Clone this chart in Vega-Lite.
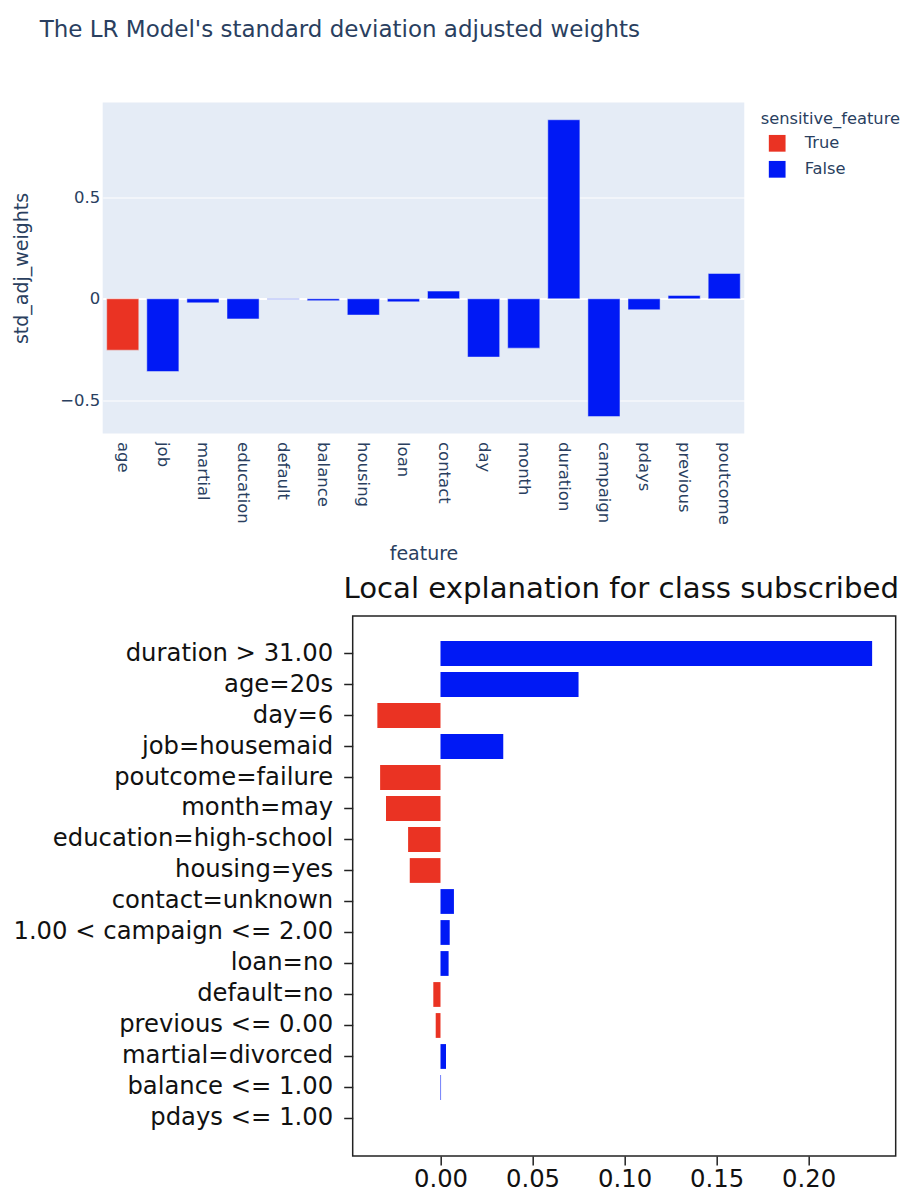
{
  "$schema": "https://vega.github.io/schema/vega-lite/v6.json",
  "background": "white",
  "padding": {"left": 4.7, "top": 18.5, "right": 0, "bottom": 0},
  "datasets": {
    "weights": [
      {"feature": "age", "std_adj_weights": -0.253, "sensitive_feature": "True"},
      {"feature": "job", "std_adj_weights": -0.358, "sensitive_feature": "False"},
      {"feature": "martial", "std_adj_weights": -0.02, "sensitive_feature": "False"},
      {"feature": "education", "std_adj_weights": -0.099, "sensitive_feature": "False"},
      {"feature": "default", "std_adj_weights": -0.002, "sensitive_feature": "False"},
      {"feature": "balance", "std_adj_weights": -0.009, "sensitive_feature": "False"},
      {"feature": "housing", "std_adj_weights": -0.08, "sensitive_feature": "False"},
      {"feature": "loan", "std_adj_weights": -0.015, "sensitive_feature": "False"},
      {"feature": "contact", "std_adj_weights": 0.038, "sensitive_feature": "False"},
      {"feature": "day", "std_adj_weights": -0.287, "sensitive_feature": "False"},
      {"feature": "month", "std_adj_weights": -0.243, "sensitive_feature": "False"},
      {"feature": "duration", "std_adj_weights": 0.882, "sensitive_feature": "False"},
      {"feature": "campaign", "std_adj_weights": -0.58, "sensitive_feature": "False"},
      {"feature": "pdays", "std_adj_weights": -0.054, "sensitive_feature": "False"},
      {"feature": "previous", "std_adj_weights": 0.016, "sensitive_feature": "False"},
      {"feature": "poutcome", "std_adj_weights": 0.125, "sensitive_feature": "False"}
    ],
    "lime": [
      {"label": "duration > 31.00", "value": 0.2345, "direction": "positive"},
      {"label": "age=20s", "value": 0.075, "direction": "positive"},
      {"label": "day=6", "value": -0.0343, "direction": "negative"},
      {"label": "job=housemaid", "value": 0.0341, "direction": "positive"},
      {"label": "poutcome=failure", "value": -0.0328, "direction": "negative"},
      {"label": "month=may", "value": -0.0296, "direction": "negative"},
      {"label": "education=high-school", "value": -0.0176, "direction": "negative"},
      {"label": "housing=yes", "value": -0.0167, "direction": "negative"},
      {"label": "contact=unknown", "value": 0.0073, "direction": "positive"},
      {"label": "1.00 < campaign <= 2.00", "value": 0.005, "direction": "positive"},
      {"label": "loan=no", "value": 0.0044, "direction": "positive"},
      {"label": "default=no", "value": -0.0039, "direction": "negative"},
      {"label": "previous <= 0.00", "value": -0.0026, "direction": "negative"},
      {"label": "martial=divorced", "value": 0.003, "direction": "positive"},
      {"label": "balance <= 1.00", "value": 0.0003, "direction": "positive"},
      {"label": "pdays <= 1.00", "value": 0, "direction": "positive"}
    ]
  },
  "concat": [
    {
      "data": {"values": [{}]},
      "width": 1,
      "height": 1,
      "view": {"fill": null, "stroke": null},
      "mark": {"type": "point", "opacity": 0},
      "encoding": {}
    },
    {
      "data": {"name": "weights"},
      "width": 641.6,
      "height": 331,
      "view": {"fill": "#E5ECF6", "stroke": null},
      "title": {
        "text": "The LR Model's standard deviation adjusted weights",
        "font": "DejaVu Sans",
        "fontSize": 23,
        "fontWeight": "normal",
        "color": "#2a3f5f",
        "anchor": "start",
        "frame": "group",
        "dx": -63,
        "offset": 61
      },
      "mark": {"type": "bar", "stroke": "#E5ECF6", "strokeWidth": 0.5},
      "encoding": {
        "x": {
          "field": "feature",
          "type": "nominal",
          "sort": null,
          "scale": {"paddingInner": 0.2, "paddingOuter": 0.1},
          "axis": {
            "title": "feature",
            "labelAngle": 90,
            "labelFont": "DejaVu Sans",
            "labelFontSize": 16.5,
            "labelColor": "#2a3f5f",
            "ticks": false,
            "domain": false,
            "labelPadding": 8,
            "titleFont": "DejaVu Sans",
            "titleFontSize": 19,
            "titleFontWeight": "normal",
            "titleColor": "#2a3f5f",
            "titlePadding": 20
          }
        },
        "y": {
          "field": "std_adj_weights",
          "type": "quantitative",
          "scale": {"domain": [-0.6635, 0.967], "nice": false, "zero": false},
          "axis": {
            "title": "std_adj_weights",
            "values": [-0.5, 0, 0.5],
            "format": ".1~f",
            "labelFont": "DejaVu Sans",
            "labelFontSize": 16.5,
            "labelColor": "#2a3f5f",
            "ticks": false,
            "domain": false,
            "labelPadding": 3,
            "grid": true,
            "gridColor": "white",
            "gridWidth": {"condition": {"test": "datum.value === 0", "value": 2}, "value": 1},
            "titleFont": "DejaVu Sans",
            "titleFontSize": 19,
            "titleFontWeight": "normal",
            "titleColor": "#2a3f5f",
            "titlePadding": 28
          }
        },
        "y2": {"datum": 0},
        "color": {
          "field": "sensitive_feature",
          "type": "nominal",
          "scale": {"domain": ["True", "False"], "range": ["#ea3323", "#0019f5"]},
          "legend": {
            "title": "sensitive_feature",
            "orient": "right",
            "offset": 8,
            "padding": 8,
            "titleFont": "DejaVu Sans",
            "titleFontSize": 16.3,
            "titleFontWeight": "normal",
            "titleColor": "#2a3f5f",
            "titlePadding": 8,
            "labelFont": "DejaVu Sans",
            "labelFontSize": 16.3,
            "labelColor": "#2a3f5f",
            "symbolType": "square",
            "symbolSize": 280,
            "symbolStrokeWidth": 0,
            "symbolOffset": 8,
            "labelOffset": 19,
            "rowPadding": 9
          }
        }
      }
    },
    {
      "data": {"values": [{}]},
      "width": 1,
      "height": 1,
      "view": {"fill": null, "stroke": null},
      "mark": {"type": "point", "opacity": 0},
      "encoding": {}
    },
    {
      "data": {"name": "lime"},
      "width": 543,
      "height": 540,
      "view": {"fill": "white", "stroke": "#222", "strokeWidth": 1.5},
      "title": {
        "text": "Local explanation for class subscribed",
        "font": "DejaVu Sans",
        "fontSize": 29.2,
        "fontWeight": "normal",
        "color": "#111",
        "anchor": "middle",
        "frame": "group",
        "dx": -3,
        "offset": 12
      },
      "mark": {"type": "bar"},
      "encoding": {
        "y": {
          "field": "label",
          "type": "nominal",
          "sort": null,
          "scale": {"paddingInner": 0.2, "paddingOuter": 0.81},
          "axis": {
            "title": null,
            "labelFont": "DejaVu Sans",
            "labelFontSize": 24.3,
            "labelColor": "#111",
            "labelLimit": 0,
            "tickSize": 9,
            "tickColor": "#222",
            "tickWidth": 1.5,
            "labelPadding": 11,
            "domain": false,
            "grid": false
          }
        },
        "x": {
          "field": "value",
          "type": "quantitative",
          "scale": {"domain": [-0.0477, 0.2473], "nice": false, "zero": false},
          "axis": {
            "title": null,
            "values": [0, 0.05, 0.1, 0.15, 0.2],
            "format": ".2f",
            "labelFont": "DejaVu Sans",
            "labelFontSize": 24.3,
            "labelColor": "#111",
            "tickSize": 9,
            "tickColor": "#222",
            "tickWidth": 1.5,
            "labelPadding": 3,
            "domain": false,
            "grid": false
          }
        },
        "x2": {"datum": 0},
        "color": {
          "field": "direction",
          "type": "nominal",
          "scale": {"domain": ["positive", "negative"], "range": ["#0019f5", "#ea3323"]},
          "legend": null
        }
      }
    }
  ],
  "columns": 2,
  "align": "none",
  "spacing": {"row": 10.5, "column": 0},
  "resolve": {"scale": {"color": "independent"}, "legend": {"color": "independent"}}
}
